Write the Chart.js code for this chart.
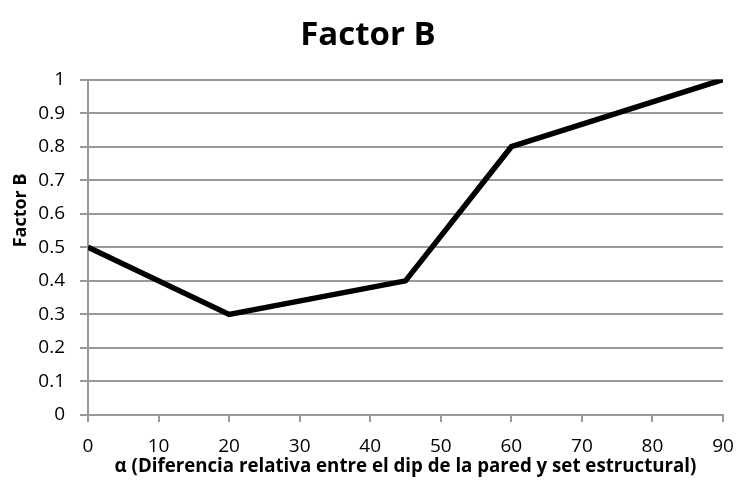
<!DOCTYPE html>
<html>
<head>
<meta charset="utf-8">
<script src="https://cdn.jsdelivr.net/npm/chart.js@4/dist/chart.umd.min.js"></script>
<style>
  html, body { margin: 0; padding: 0; background: #fff; }
  #wrap { width: 736px; height: 481px; }
</style>
</head>
<body>
<div id="wrap"><canvas id="c" width="736" height="481"></canvas></div>
<script>
// Factor B versus alpha (degrees)
const alphaValues = [0, 20, 45, 60, 90];
const factorB = [0.5, 0.3, 0.4, 0.8, 1.0];
const xTicks = [0, 10, 20, 30, 40, 50, 60, 70, 80, 90];
const yTicks = [0, 0.1, 0.2, 0.3, 0.4, 0.5, 0.6, 0.7, 0.8, 0.9, 1];
const yAxisTitle = 'Factor B';

const FONT = "'Open Sans', 'DejaVu Sans', sans-serif";
const GRID = '#999999';

const points = alphaValues.map((a, i) => ({ x: a, y: factorB[i] }));

// Vertical y-axis title, sitting a little above the axis middle
const yTitlePlugin = {
  id: 'yTitle',
  afterDraw(chart) {
    const { ctx, chartArea } = chart;
    const cy = chartArea.top + (chartArea.bottom - chartArea.top) * 0.39;
    ctx.save();
    ctx.translate(21, cy);
    ctx.rotate(-Math.PI / 2);
    ctx.fillStyle = '#000';
    ctx.font = `bold 18px ${FONT}`;
    ctx.textAlign = 'center';
    ctx.textBaseline = 'middle';
    ctx.fillText(yAxisTitle, 0, 0);
    ctx.restore();
  }
};

new Chart(document.getElementById('c'), {
  type: 'scatter',
  data: {
    datasets: [{
      data: points,
      showLine: true,
      borderColor: '#000',
      borderWidth: 5.5,
      pointRadius: 0,
      fill: false,
      tension: 0
    }]
  },
  options: {
    responsive: false,
    animation: false,
    layout: { padding: 0 },
    plugins: {
      legend: { display: false },
      tooltip: { enabled: false },
      title: {
        display: true,
        text: 'Factor B',
        color: '#000',
        font: { family: FONT, size: 33, weight: 'bold' },
        padding: { top: 16, bottom: 24 }
      }
    },
    scales: {
      x: {
        type: 'linear',
        min: 0, max: 90,
        afterBuildTicks: s => { s.ticks = xTicks.map(v => ({ value: v })); },
        afterFit: s => { s.height = 66; s.paddingLeft = 0; s.paddingRight = 13; },
        grid: {
          display: true,
          drawOnChartArea: false,
          drawTicks: true,
          tickLength: 7,
          color: GRID,
          lineWidth: 2
        },
        border: { display: true, color: GRID, width: 2 },
        ticks: {
          color: '#000',
          font: { family: FONT, size: 19 },
          padding: 13,
          maxRotation: 0
        },
        title: {
          display: true,
          text: 'α (Diferencia relativa entre el dip de la pared y set estructural)',
          color: '#000',
          font: { family: FONT, size: 18.7, weight: 'bold' },
          padding: { top: 0, bottom: 3 }
        }
      },
      y: {
        type: 'linear',
        min: 0, max: 1,
        afterBuildTicks: s => { s.ticks = yTicks.map(v => ({ value: v })); },
        afterFit: s => { s.width = 88; },
        grid: {
          display: true,
          drawTicks: true,
          tickLength: 8,
          color: GRID,
          lineWidth: 2
        },
        border: { display: true, color: GRID, width: 2 },
        ticks: {
          color: '#000',
          font: { family: FONT, size: 19 },
          padding: 15,
          callback: v => String(Math.round(v * 10) / 10)
        },
        title: { display: false }
      }
    }
  },
  plugins: [yTitlePlugin]
});
</script>
</body>
</html>
